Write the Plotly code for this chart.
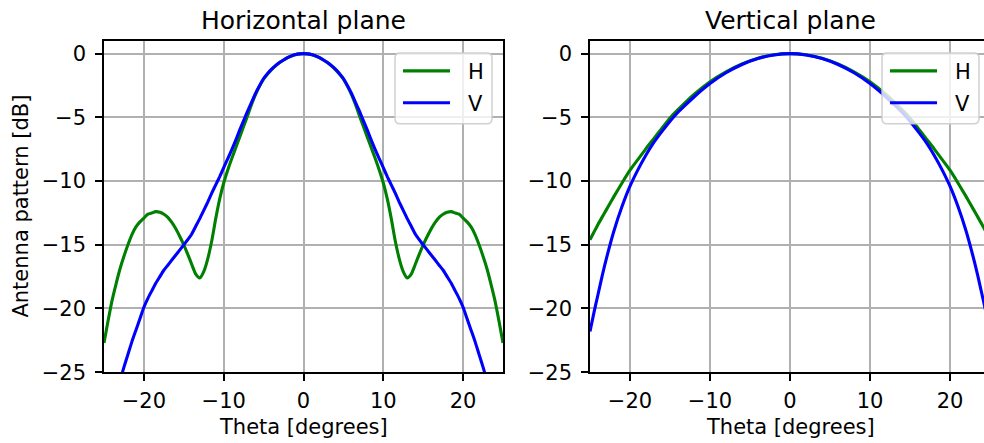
import plotly.graph_objects as go

# ---------------- data ----------------
# Horizontal plane, H polarisation (theta every 0.5 degree from -25 to 25)
theta_h_hp = [-25, -24.5, -24, -23.5, -23, -22.5, -22, -21.5, -21, -20.5, -20, -19.5, -19, -18.5, -18, -17.5,
              -17, -16.5, -16, -15.5, -15, -14.5, -14, -13.5, -13, -12.5, -12, -11.5, -11, -10.5, -10, -9.5,
              -9, -8.5, -8, -7.5, -7, -6.5, -6, -5.5, -5, -4.5, -4, -3.5, -3, -2.5, -2, -1.5, -1, -0.5,
              0, 0.5, 1, 1.5, 2, 2.5, 3, 3.5, 4, 4.5, 5, 5.5, 6, 6.5, 7, 7.5, 8, 8.5, 9, 9.5, 10, 10.5,
              11, 11.5, 12, 12.5, 13, 13.5, 14, 14.5, 15, 15.5, 16, 16.5, 17, 17.5, 18, 18.5, 19, 19.5,
              20, 20.5, 21, 21.5, 22, 22.5, 23, 23.5, 24, 24.5, 25]
h_hp = [-22.7, -21.0, -19.4, -18.1, -16.9, -15.9, -15.0, -14.2, -13.6, -13.2, -12.9, -12.6, -12.5, -12.4,
        -12.45, -12.6, -12.85, -13.25, -13.75, -14.35, -15.0, -15.75, -16.55, -17.3, -17.6, -17.1, -16.1,
        -14.7, -12.95, -11.4, -10.15, -9.15, -8.25, -7.4, -6.55, -5.7, -4.85, -3.97, -3.2, -2.55, -2.0,
        -1.6, -1.25, -0.95, -0.7, -0.5, -0.32, -0.18, -0.08, -0.02,
        0.0,
        -0.02, -0.08, -0.18, -0.32, -0.5, -0.7, -0.95, -1.25, -1.6, -2.0, -2.55, -3.2, -3.97, -4.85, -5.7,
        -6.55, -7.4, -8.25, -9.15, -10.15, -11.4, -12.95, -14.7, -16.1, -17.1, -17.6, -17.3, -16.55, -15.75,
        -15.0, -14.35, -13.75, -13.25, -12.85, -12.6, -12.45, -12.4, -12.5, -12.6, -12.9, -13.2, -13.6,
        -14.2, -15.0, -15.9, -16.9, -18.1, -19.4, -21.0, -22.7]

# Horizontal plane, V polarisation (runs out of the axes below -25 dB)
theta_v_hp = [-23, -22.5, -22, -21.5, -21, -20.5, -20, -19.5, -19, -18.5, -18, -17.5, -17, -16.5, -16, -15.5,
              -15, -14.5, -14, -13.5, -13, -12.5, -12, -11.5, -11, -10.5, -10, -9.5, -9, -8.5, -8, -7.5,
              -7, -6.5, -6, -5.5, -5, -4.5, -4, -3.5, -3, -2.5, -2, -1.5, -1, -0.5,
              0, 0.5, 1, 1.5, 2, 2.5, 3, 3.5, 4, 4.5, 5, 5.5, 6, 6.5, 7, 7.5, 8, 8.5, 9, 9.5, 10, 10.5,
              11, 11.5, 12, 12.5, 13, 13.5, 14, 14.5, 15, 15.5, 16, 16.5, 17, 17.5, 18, 18.5, 19, 19.5,
              20, 20.5, 21, 21.5, 22, 22.5, 23]
v_hp = [-25.7, -24.6, -23.6, -22.6, -21.7, -20.8, -19.9, -19.2, -18.6, -18.0, -17.5, -17.0, -16.6, -16.2,
        -15.8, -15.4, -15.0, -14.6, -14.15, -13.55, -12.95, -12.3, -11.65, -10.95, -10.3, -9.65, -8.95,
        -8.25, -7.55, -6.8, -6.0, -5.25, -4.5, -3.8, -3.1, -2.5, -1.95, -1.55, -1.22, -0.94, -0.7, -0.5,
        -0.32, -0.17, -0.07, -0.02,
        0.0,
        -0.02, -0.07, -0.17, -0.32, -0.5, -0.7, -0.94, -1.22, -1.55, -1.95, -2.5, -3.1, -3.8, -4.5, -5.25,
        -6.0, -6.8, -7.55, -8.25, -8.95, -9.65, -10.3, -10.95, -11.65, -12.3, -12.95, -13.55, -14.15, -14.6,
        -15.0, -15.4, -15.8, -16.2, -16.6, -17.0, -17.5, -18.0, -18.6, -19.2, -19.9, -20.8, -21.7, -22.6,
        -23.6, -24.6, -25.7]

# Vertical plane
theta_v = [-25, -24.5, -24, -23.5, -23, -22, -21, -20, -19, -18, -17, -16, -15, -14, -12, -10, -8, -6, -4,
           -2, 0, 2, 4, 6, 8, 10, 12, 14, 15, 16, 17, 18, 19, 20, 21, 22, 23, 23.5, 24, 24.5, 25]
h_v = [-14.6, -14.0, -13.4, -12.85, -12.3, -11.2, -10.15, -9.15, -8.3, -7.45, -6.65, -5.85, -5.05, -4.4,
       -3.2, -2.2, -1.42, -0.8, -0.36, -0.09, 0.0, -0.09, -0.36, -0.8, -1.42, -2.2, -3.2, -4.4, -5.05,
       -5.85, -6.65, -7.45, -8.3, -9.15, -10.15, -11.2, -12.3, -12.85, -13.4, -14.0, -14.6]
v_v = [-21.8, -20.3, -18.9, -17.5, -16.2, -13.9, -12.0, -10.4, -9.1, -7.95, -6.95, -6.1, -5.3, -4.6,
       -3.4, -2.35, -1.5, -0.85, -0.38, -0.1, 0.0, -0.1, -0.38, -0.85, -1.5, -2.35, -3.4, -4.6, -5.3,
       -6.1, -6.95, -7.95, -9.1, -10.4, -12.0, -13.9, -16.2, -17.5, -18.9, -20.3, -21.8]

x_ticks = [-20, -10, 0, 10, 20]
y_ticks = [0, -5, -10, -15, -20, -25]
titles = ["Horizontal plane", "Vertical plane"]
x_label = "Theta [degrees]"
y_label = "Antenna pattern [dB]"
series_names = ["H", "V"]

GREEN = "#008000"
BLUE = "#0000ff"
FONT = "DejaVu Sans"
W, H = 984, 443
S = 0.975  # vertical factor observed between layout pixels and the photographed page

fig = go.Figure()
lw = 3.1
sm = 0.6
fig.add_trace(go.Scatter(x=theta_h_hp, y=h_hp, mode="lines", name=series_names[0],
                         line=dict(color=GREEN, width=lw, shape="spline", smoothing=sm), xaxis="x", yaxis="y"))
fig.add_trace(go.Scatter(x=theta_v_hp, y=v_hp, mode="lines", name=series_names[1],
                         line=dict(color=BLUE, width=lw, shape="spline", smoothing=sm), xaxis="x", yaxis="y"))
fig.add_trace(go.Scatter(x=theta_v, y=h_v, mode="lines", name=series_names[0],
                         line=dict(color=GREEN, width=lw, shape="spline", smoothing=sm), xaxis="x2", yaxis="y2"))
fig.add_trace(go.Scatter(x=theta_v, y=v_v, mode="lines", name=series_names[1],
                         line=dict(color=BLUE, width=lw, shape="spline", smoothing=sm), xaxis="x2", yaxis="y2"))


def px(x):
    return x / W


def py(y):
    return 1 - (y / S) / H


axis_common = dict(showgrid=True, gridcolor="#b0b0b0", gridwidth=1.6, zeroline=False,
                   showline=True, linecolor="black", linewidth=1.6,
                   ticks="outside", ticklen=7, tickwidth=1.6, tickcolor="black",
                   tickfont=dict(family=FONT, size=21, color="black"))

ydom = [py(373), py(41)]
fig.update_layout(
    width=W, height=H, autosize=False, margin=dict(l=0, r=0, t=0, b=0, pad=0),
    paper_bgcolor="white", plot_bgcolor="white",
    font=dict(family=FONT, color="black"),
    showlegend=False,
    xaxis=dict(domain=[px(104), px(503)], range=[-25, 25], tickvals=x_ticks, mirror=True, anchor="y",
               ticklabelstandoff=2, **axis_common),
    yaxis=dict(domain=ydom, range=[-25, 1], tickvals=y_ticks, mirror=True, anchor="x",
               ticklabelstandoff=5, **axis_common),
    xaxis2=dict(domain=[px(590), 1.0], range=[-25, 24.25], tickvals=x_ticks, mirror=True, anchor="y2",
                ticklabelstandoff=2, **axis_common),
    yaxis2=dict(domain=ydom, range=[-25, 1], tickvals=y_ticks, mirror=False, anchor="x2",
                ticklabelstandoff=5, **axis_common),
)

# legend boxes drawn as rounded, semi-transparent frames, with line samples and labels
for x0 in (395, 882):
    x1, y0, y1, r = x0 + 97, 53, 124, 5
    path = (f"M {px(x0 + r)},{py(y0)} L {px(x1 - r)},{py(y0)} Q {px(x1)},{py(y0)} {px(x1)},{py(y0 + r)} "
            f"L {px(x1)},{py(y1 - r)} Q {px(x1)},{py(y1)} {px(x1 - r)},{py(y1)} "
            f"L {px(x0 + r)},{py(y1)} Q {px(x0)},{py(y1)} {px(x0)},{py(y1 - r)} "
            f"L {px(x0)},{py(y0 + r)} Q {px(x0)},{py(y0)} {px(x0 + r)},{py(y0)} Z")
    fig.add_shape(type="path", path=path, xref="paper", yref="paper", layer="above",
                  fillcolor="rgba(255,255,255,0.8)", line=dict(color="rgba(204,204,204,0.9)", width=1.5))
    for name, col, yy in ((series_names[0], GREEN, 71), (series_names[1], BLUE, 103)):
        fig.add_shape(type="line", xref="paper", yref="paper", layer="above",
                      x0=px(x0 + 8), x1=px(x0 + 55), y0=py(yy), y1=py(yy), line=dict(color=col, width=lw))
        fig.add_annotation(text=name, xref="paper", yref="paper", x=px(x0 + 71), y=py(yy + 1),
                           xanchor="left", yanchor="middle", showarrow=False,
                           font=dict(family=FONT, size=21, color="black"))

for t, xc in zip(titles, (303.5, 790)):
    fig.add_annotation(text=t, xref="paper", yref="paper", x=px(xc), y=py(21), xanchor="center",
                       yanchor="middle", showarrow=False, font=dict(family=FONT, size=25, color="black"))
for xc in (303.5, 790):
    fig.add_annotation(text=x_label, xref="paper", yref="paper", x=px(xc), y=py(428), xanchor="center",
                       yanchor="middle", showarrow=False, font=dict(family=FONT, size=21, color="black"))
fig.add_annotation(text=y_label, xref="paper", yref="paper", x=px(21), y=py(207), xanchor="center",
                   yanchor="middle", textangle=-90, showarrow=False, font=dict(family=FONT, size=21, color="black"))

fig.write_html("out.html")
